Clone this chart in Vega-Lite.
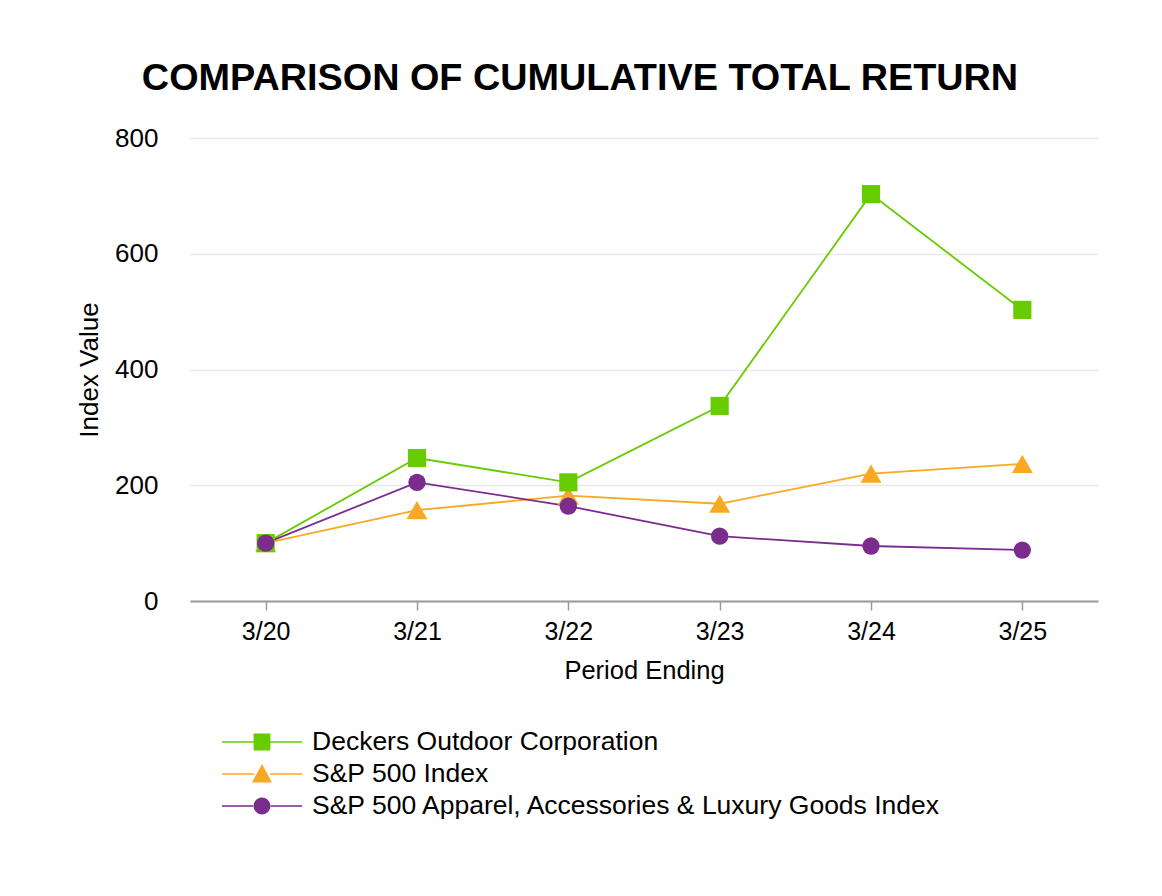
{
  "$schema": "https://vega.github.io/schema/vega-lite/v6.json",
  "width": 908,
  "height": 463,
  "autosize": {"type": "none"},
  "padding": {"left": 190, "top": 138, "right": 64, "bottom": 295},
  "background": "white",
  "title": {
    "text": "COMPARISON OF CUMULATIVE TOTAL RETURN",
    "font": "Liberation Sans",
    "fontSize": 37.8,
    "fontWeight": "bold",
    "color": "black",
    "anchor": "middle",
    "frame": "group",
    "dx": -64,
    "offset": 27
  },
  "data": {
    "values": [
      {"period": "3/20", "series": "S&P 500 Index", "value": 100},
      {"period": "3/21", "series": "S&P 500 Index", "value": 157},
      {"period": "3/22", "series": "S&P 500 Index", "value": 182},
      {"period": "3/23", "series": "S&P 500 Index", "value": 168},
      {"period": "3/24", "series": "S&P 500 Index", "value": 220},
      {"period": "3/25", "series": "S&P 500 Index", "value": 237},
      {"period": "3/20", "series": "Deckers Outdoor Corporation", "value": 100},
      {"period": "3/21", "series": "Deckers Outdoor Corporation", "value": 247},
      {"period": "3/22", "series": "Deckers Outdoor Corporation", "value": 205},
      {"period": "3/23", "series": "Deckers Outdoor Corporation", "value": 337},
      {"period": "3/24", "series": "Deckers Outdoor Corporation", "value": 703},
      {"period": "3/25", "series": "Deckers Outdoor Corporation", "value": 503},
      {"period": "3/20", "series": "S&P 500 Apparel, Accessories & Luxury Goods Index", "value": 100},
      {"period": "3/21", "series": "S&P 500 Apparel, Accessories & Luxury Goods Index", "value": 205},
      {"period": "3/22", "series": "S&P 500 Apparel, Accessories & Luxury Goods Index", "value": 164},
      {"period": "3/23", "series": "S&P 500 Apparel, Accessories & Luxury Goods Index", "value": 112},
      {"period": "3/24", "series": "S&P 500 Apparel, Accessories & Luxury Goods Index", "value": 95},
      {"period": "3/25", "series": "S&P 500 Apparel, Accessories & Luxury Goods Index", "value": 88}
    ]
  },
  "encoding": {
    "x": {
      "field": "period",
      "type": "ordinal",
      "sort": null,
      "scale": {"type": "point", "padding": 0.5},
      "axis": {
        "title": "Period Ending",
        "titleFont": "Liberation Sans",
        "titleFontSize": 25.5,
        "titleFontWeight": "normal",
        "titleColor": "black",
        "titlePadding": 14,
        "labelFont": "Liberation Sans",
        "labelFontSize": 25,
        "labelColor": "black",
        "labelAngle": 0,
        "labelPadding": 9,
        "domainColor": "#9a9a9a",
        "domainWidth": 2,
        "tickColor": "#9a9a9a",
        "tickWidth": 1.5,
        "tickSize": 9,
        "grid": false
      }
    },
    "y": {
      "field": "value",
      "type": "quantitative",
      "scale": {"domain": [0, 800]},
      "axis": {
        "title": "Index Value",
        "values": [0, 200, 400, 600, 800],
        "titleFont": "Liberation Sans",
        "titleFontSize": 26,
        "titleFontWeight": "normal",
        "titleColor": "black",
        "titlePadding": 12,
        "labelFont": "Liberation Sans",
        "labelFontSize": 26,
        "labelColor": "black",
        "labelPadding": 32,
        "domain": false,
        "ticks": false,
        "gridColor": "#e8e8e8",
        "gridWidth": 1.5
      }
    }
  },
  "layer": [
    {
      "mark": {"type": "line", "strokeWidth": 1.8},
      "encoding": {
        "color": {
          "field": "series",
          "type": "nominal",
          "scale": {
            "domain": ["Deckers Outdoor Corporation", "S&P 500 Index", "S&P 500 Apparel, Accessories & Luxury Goods Index"],
            "range": ["#66cc00", "#f9a823", "#7b2d8e"]
          },
          "legend": null
        }
      }
    },
    {
      "mark": {"type": "point", "filled": true, "opacity": 1},
      "encoding": {
        "color": {
          "field": "series",
          "type": "nominal",
          "scale": {
            "domain": ["Deckers Outdoor Corporation", "S&P 500 Index", "S&P 500 Apparel, Accessories & Luxury Goods Index"],
            "range": ["#66cc00", "#f9a823", "#7b2d8e"]
          },
          "legend": null
        },
        "shape": {
          "field": "series",
          "type": "nominal",
          "scale": {
            "domain": ["Deckers Outdoor Corporation", "S&P 500 Index", "S&P 500 Apparel, Accessories & Luxury Goods Index"],
            "range": ["square", "triangle-up", "circle"]
          },
          "legend": null
        },
        "size": {
          "field": "series",
          "type": "nominal",
          "scale": {
            "type": "ordinal",
            "domain": ["Deckers Outdoor Corporation", "S&P 500 Index", "S&P 500 Apparel, Accessories & Luxury Goods Index"],
            "range": [330, 440, 300]
          },
          "legend": null
        }
      }
    },
    {
      "mark": {"type": "point", "filled": true, "opacity": 0, "size": 6400},
      "encoding": {
        "color": {
          "field": "series",
          "type": "nominal",
          "scale": {
            "domain": ["Deckers Outdoor Corporation", "S&P 500 Index", "S&P 500 Apparel, Accessories & Luxury Goods Index"],
            "range": ["#66cc00", "#f9a823", "#7b2d8e"]
          },
          "legend": {
            "title": null,
            "orient": "none",
            "legendX": 32,
            "legendY": 588,
            "direction": "vertical",
            "symbolSize": 6400,
            "symbolStrokeWidth": 0,
            "symbolOpacity": 1,
            "labelFont": "Liberation Sans",
            "labelFontSize": 26.5,
            "labelColor": "black",
            "labelLimit": 900,
            "labelOffset": 10,
            "rowPadding": 0,
            "clipHeight": 32,
            "encode": {"symbols": {"update": {"opacity": {"value": 1}}}}
          }
        },
        "shape": {
          "field": "series",
          "type": "nominal",
          "scale": {
            "domain": ["Deckers Outdoor Corporation", "S&P 500 Index", "S&P 500 Apparel, Accessories & Luxury Goods Index"],
            "range": [
              "M-1,-0.016H-0.2V0.016H-1Z M0.2,-0.016H1V0.016H0.2Z M-0.21,-0.21H0.21V0.21H-0.21Z",
              "M-1,-0.016H-0.2V0.016H-1Z M0.2,-0.016H1V0.016H0.2Z M0,-0.25L0.25,0.21L-0.25,0.21Z",
              "M-1,-0.016H-0.2V0.016H-1Z M0.2,-0.016H1V0.016H0.2Z M-0.21,0A0.21,0.21,0,1,0,0.21,0A0.21,0.21,0,1,0,-0.21,0Z"
            ]
          },
          "legend": {
            "title": null,
            "orient": "none",
            "legendX": 32,
            "legendY": 588,
            "direction": "vertical",
            "symbolSize": 6400,
            "symbolStrokeWidth": 0,
            "symbolOpacity": 1,
            "labelFont": "Liberation Sans",
            "labelFontSize": 26.5,
            "labelColor": "black",
            "labelLimit": 900,
            "labelOffset": 10,
            "rowPadding": 0,
            "clipHeight": 32,
            "encode": {"symbols": {"update": {"opacity": {"value": 1}}}}
          }
        }
      }
    }
  ],
  "resolve": {"scale": {"color": "independent", "shape": "independent", "size": "independent"}},
  "config": {
    "view": {"stroke": null}
  }
}
